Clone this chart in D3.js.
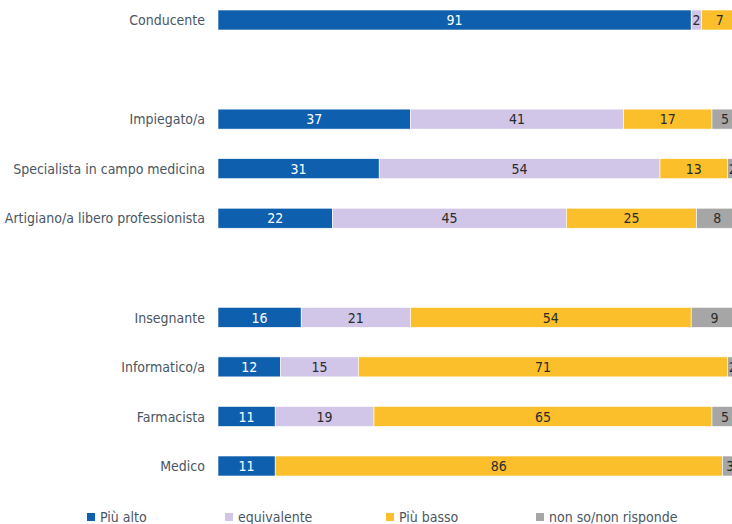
<!DOCTYPE html>
<html>
<head>
<meta charset="utf-8">
<script src="https://cdn.jsdelivr.net/npm/d3@7"></script>
<style>
  html, body { margin: 0; padding: 0; background: #fff; }
  svg { display: block; font-family: "DejaVu Sans Condensed", "Liberation Sans Narrow", sans-serif; }
</style>
</head>
<body>
<svg id="chart" width="732" height="524"></svg>
<script>
// Rows from top to bottom; blank names are spacer rows between groups
const categories = [
  "Conducente", "", "Impiegato/a", "Specialista in campo medicina",
  "Artigiano/a libero professionista", " ", "Insegnante", "Informatico/a",
  "Farmacista", "Medico"
];
const seriesNames = ["Più alto", "equivalente", "Più basso", "non so/non risponde"];
const piuAlto      = [91, null, 37, 31, 22, null, 16, 12, 11, 11];
const equivalente  = [2,  null, 41, 54, 45, null, 21, 15, 19, 0];
const piuBasso     = [7,  null, 17, 13, 25, null, 54, 71, 65, 86];
const nonSo        = [0,  null, 5,  2,  8,  null, 9,  2,  5,  3];
const colors = ["#0e5fad", "#d1c6e8", "#fbbf2c", "#a6a6a6"];
const labelColors = ["#ffffff", "#2b2b2b", "#2b2b2b", "#2b2b2b"];

const svg = d3.select("#chart");
const W = 732, H = 524;

const x = d3.scaleLinear().domain([0, 100]).range([218, 738]);
const y = d3.scalePoint().domain(d3.range(categories.length)).range([20, 466]);
const barH = 20;

const table = categories.map((c, i) => ({
  name: c, i,
  "Più alto": piuAlto[i], "equivalente": equivalente[i],
  "Più basso": piuBasso[i], "non so/non risponde": nonSo[i]
})).filter(d => d["Più alto"] !== null);

const stack = d3.stack().keys(seriesNames)(table);

svg.append("defs").append("clipPath").attr("id", "plot")
  .append("rect").attr("x", 0).attr("y", 0).attr("width", W).attr("height", H);

const g = svg.append("g").attr("clip-path", "url(#plot)");

stack.forEach((layer, k) => {
  const segs = layer.filter(d => d[1] - d[0] > 0);
  const lg = g.append("g");
  lg.selectAll("rect").data(segs).join("rect")
    .attr("x", d => x(d[0]))
    .attr("y", d => y(d.data.i) - barH / 2)
    .attr("width", d => x(d[1]) - x(d[0]))
    .attr("height", barH)
    .attr("fill", colors[k])
    .attr("stroke", "#ffffff")
    .attr("stroke-width", 0.6);
  lg.selectAll("text").data(segs).join("text")
    .attr("x", d => (x(d[0]) + x(d[1])) / 2)
    .attr("y", d => y(d.data.i))
    .attr("dy", "0.37em")
    .attr("text-anchor", "middle")
    .attr("font-size", 14)
    .attr("fill", labelColors[k])
    .text(d => d[1] - d[0]);
});

// Category labels
svg.append("g").selectAll("text").data(table).join("text")
  .attr("x", 205)
  .attr("y", d => y(d.i))
  .attr("dy", "0.37em")
  .attr("text-anchor", "end")
  .attr("font-size", 14)
  .attr("fill", "#4a5663")
  .text(d => d.name);

// Legend
const legendX = [91, 229, 390, 540];
const legend = svg.append("g").selectAll("g").data(seriesNames).join("g")
  .attr("transform", (d, k) => `translate(${legendX[k]},517)`);
legend.append("rect")
  .attr("x", -4).attr("y", -4).attr("width", 8).attr("height", 8)
  .attr("fill", (d, k) => colors[k]);
legend.append("text")
  .attr("x", 9).attr("dy", "0.37em")
  .attr("font-size", 14)
  .attr("fill", "#4a5663")
  .text(d => d);
</script>
</body>
</html>
